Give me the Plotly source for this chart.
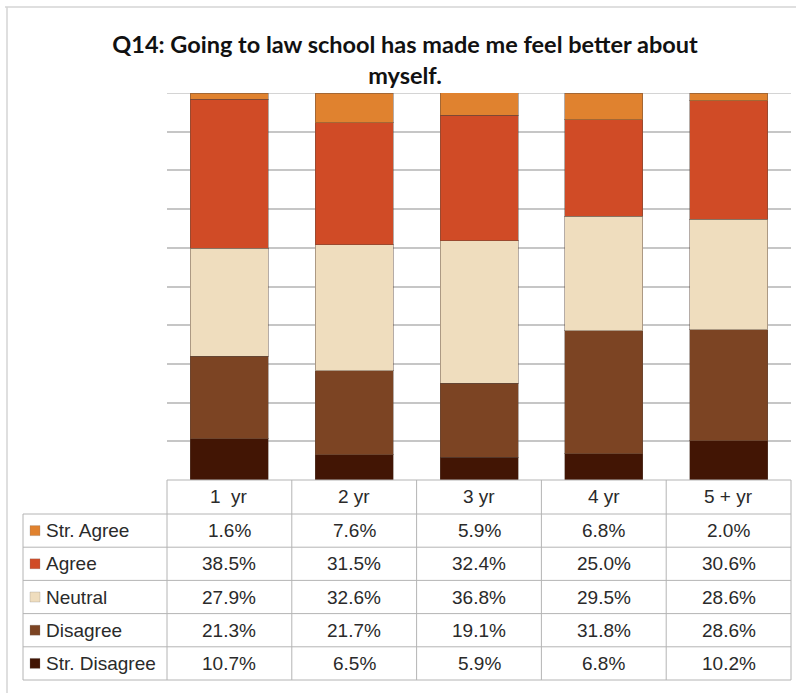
import plotly.graph_objects as go

# Survey responses by year in practice (percent of respondents)
categories = ["1  yr", "2 yr", "3 yr", "4 yr", "5 + yr"]
series_names = ["Str. Agree", "Agree", "Neutral", "Disagree", "Str. Disagree"]
str_agree = [1.6, 7.6, 5.9, 6.8, 2.0]
agree = [38.5, 31.5, 32.4, 25.0, 30.6]
neutral = [27.9, 32.6, 36.8, 29.5, 28.6]
disagree = [21.3, 21.7, 19.1, 31.8, 28.6]
str_disagree = [10.7, 6.5, 5.9, 6.8, 10.2]
series_colors = ["#E0822F", "#D04B26", "#EFDDBE", "#7C4423", "#421504"]

values = [str_agree, agree, neutral, disagree, str_disagree]

W, H = 796, 693


def px(x):
    return x / W


def py(y):
    return 1 - y / H


# layout geometry (pixels)
plot_left, plot_right = 167, 791
plot_top, plot_bottom = 93, 480
label_left = 23
header_bottom = 514
row_h = (680 - header_bottom) / len(series_names)
col_w = (plot_right - plot_left) / len(categories)

fig = go.Figure()

# stack from the bottom: Str. Disagree first
for name, vals, color in reversed(list(zip(series_names, values, series_colors))):
    fig.add_trace(go.Bar(
        x=list(range(len(categories))),
        y=vals,
        name=name,
        marker=dict(color=color, line=dict(color="rgba(90,70,60,0.45)", width=1)),
        hoverinfo="skip",
    ))

grid_color = "#C6C6C6"
line_color = "#B4B4B4"
shapes = []
annotations = []

# top gridline at 100%
shapes.append(dict(type="line", xref="paper", yref="y", x0=px(plot_left), x1=px(plot_right),
                   y0=100, y1=100, line=dict(color=grid_color, width=1.5), layer="below"))

# outer chart frame
shapes.append(dict(type="line", xref="paper", yref="paper", x0=px(5), x1=px(800),
                   y0=py(7), y1=py(7), line=dict(color="#D4D4D4", width=1.5)))
shapes.append(dict(type="line", xref="paper", yref="paper", x0=px(7), x1=px(7),
                   y0=py(7), y1=py(700), line=dict(color="#D4D4D4", width=1.5)))

# data table grid
shapes.append(dict(type="line", xref="paper", yref="paper", x0=px(plot_left), x1=px(plot_right),
                   y0=py(plot_bottom), y1=py(plot_bottom), line=dict(color=line_color, width=1)))
for i in range(len(series_names) + 1):
    yy = header_bottom + i * row_h
    shapes.append(dict(type="line", xref="paper", yref="paper", x0=px(label_left), x1=px(plot_right),
                       y0=py(yy), y1=py(yy), line=dict(color=line_color, width=1)))
shapes.append(dict(type="line", xref="paper", yref="paper", x0=px(label_left), x1=px(label_left),
                   y0=py(header_bottom), y1=py(680), line=dict(color=line_color, width=1)))
for j in range(len(categories) + 1):
    xx = plot_left + j * col_w
    shapes.append(dict(type="line", xref="paper", yref="paper", x0=px(xx), x1=px(xx),
                       y0=py(plot_bottom), y1=py(680), line=dict(color=line_color, width=1)))

table_font = dict(family="Liberation Sans, Arial, sans-serif", size=19, color="#2A2A2A")

# header row
for j, cat in enumerate(categories):
    annotations.append(dict(x=j, xref="x", y=py((plot_bottom + header_bottom) / 2), yref="paper",
                            text=cat.replace("  ", "\u00a0 "), showarrow=False,
                            xanchor="center", yanchor="middle", font=table_font))

# body rows: legend key + values
for i, (name, vals, color) in enumerate(zip(series_names, values, series_colors)):
    yc = header_bottom + (i + 0.5) * row_h
    shapes.append(dict(type="rect", xref="paper", yref="paper", x0=px(30), x1=px(40),
                       y0=py(yc - 5), y1=py(yc + 5), fillcolor=color,
                       line=dict(color="rgba(120,120,120,0.5)", width=0.5)))
    annotations.append(dict(x=px(44), xref="paper", y=py(yc), yref="paper", text=name,
                            showarrow=False, xanchor="left", yanchor="middle", font=table_font))
    for j, v in enumerate(vals):
        annotations.append(dict(x=j, xref="x", y=py(yc), yref="paper", text=f"{v:.1f}%",
                                showarrow=False, xanchor="center", yanchor="middle", font=table_font))

fig.update_layout(
    width=W, height=H,
    margin=dict(l=0, r=0, t=0, b=0),
    paper_bgcolor="white", plot_bgcolor="white",
    barmode="stack", bargap=0.375,
    showlegend=False,
    title=dict(
        text="Q14: Going to law school has made me feel better about<br>myself.",
        x=px(405), xanchor="center", y=py(53), yanchor="middle",
        font=dict(family="Lato, sans-serif", size=23.5, color="#111111", weight="bold"),
    ),
    xaxis=dict(domain=[px(plot_left), px(plot_right)], range=[-0.5, len(categories) - 0.5],
               showticklabels=False, showgrid=False, zeroline=False, showline=False, ticks=""),
    yaxis=dict(domain=[py(plot_bottom), py(plot_top)], range=[0, 100], dtick=10,
               showticklabels=False, showgrid=True, gridcolor=grid_color, gridwidth=1.5,
               zeroline=False, showline=False, ticks=""),
    shapes=shapes,
    annotations=annotations,
)

fig.write_html("out.html")
